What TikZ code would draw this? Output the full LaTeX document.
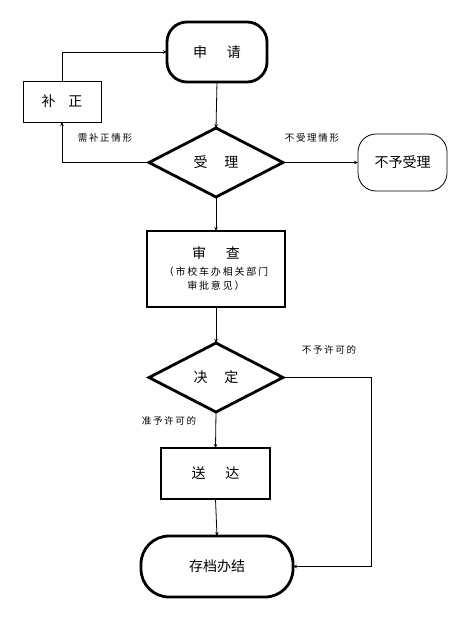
\documentclass[tikz,border=0pt]{standalone}
\usepackage{fontspec}
\newfontfamily\cjk{Noto Sans CJK SC}
\newfontfamily\cjksp[LetterSpace=18]{Noto Sans CJK SC}
\usetikzlibrary{shapes.geometric,arrows.meta}
\begin{document}
\begin{tikzpicture}[x=1pt,y=-1pt,
  every node/.style={font=\cjk},
  thinbox/.style={draw,line width=0.8pt,inner sep=0,outer sep=0},
  thickbox/.style={draw,line width=2.8pt,inner sep=0,outer sep=0},
  dia/.style={draw,diamond,line width=2.8pt,inner sep=0,outer sep=0,minimum width=134pt,minimum height=69pt},
  conn/.style={line width=0.8pt,-{Stealth[length=4pt,width=3.5pt]}},
  lab/.style={font=\cjksp\fontsize{9.5}{11}\selectfont,inner sep=0}]
\useasboundingbox (0,0) rectangle (457,620);
\node[thickbox,rounded corners=20pt,minimum width=100pt,minimum height=60pt,font=\cjk\fontsize{14}{16}\selectfont] (sq) at (217,52) {申\hspace{1.4em}请};
\node[thinbox,minimum width=78pt,minimum height=41pt,font=\cjk\fontsize{14}{16}\selectfont] (bz) at (62,101.5) {补\hspace{0.9em}正};
\node[dia,font=\cjk\fontsize{14}{16}\selectfont] (sl) at (216,162.5) {受\hspace{1.2em}理};
\node[thinbox,rounded corners=18pt,minimum width=89pt,minimum height=57pt,font=\cjk\fontsize{14}{16}\selectfont] (bysl) at (402.5,162.5) {不予受理};
\node[thickbox,minimum width=138pt,minimum height=76pt,align=center,font=\cjksp\fontsize{10}{14}\selectfont] (sc) at (216,269) {{\cjk\fontsize{14}{16}\selectfont 审\hspace{1.4em}查}\\[3pt]（市校车办相关部门\\审批意见）};
\node[dia,font=\cjk\fontsize{14}{16}\selectfont] (jd) at (216,377.5) {决\hspace{1.2em}定};
\node[thickbox,minimum width=109pt,minimum height=51pt,font=\cjk\fontsize{14}{16}\selectfont] (sd) at (215.5,473.5) {送\hspace{1.4em}达};
\node[thickbox,rounded corners=28pt,minimum width=152pt,minimum height=61pt,font=\cjk\fontsize{14}{16}\selectfont] (cd) at (217,566.5) {存档办结};
\coordinate (c1) at (371,377.5);
\node[lab] (l1) at (105,138) {需补正情形};
\node[lab] (l2) at (312,138) {不受理情形};
\node[lab] (l3) at (329,350) {不予许可的};
\node[lab] (l4) at (169,421) {准予许可的};
\draw[conn] (bz.north) |- (sq.west);
\draw[conn] (sq.south) -- (sl.north);
\draw[conn] (sl.west) -| (bz.south);
\draw[conn] (sl.east) -- (bysl.west);
\draw[conn] (sl.south) -- (sc.north);
\draw[conn] (sc.south) -- (jd.north);
\draw[conn] (jd.east) -- (c1) |- (cd.east);
\draw[conn] (jd.south) -- (sd.north);
\draw[conn] (sd.south) -- (cd.north);
\end{tikzpicture}
\end{document}
